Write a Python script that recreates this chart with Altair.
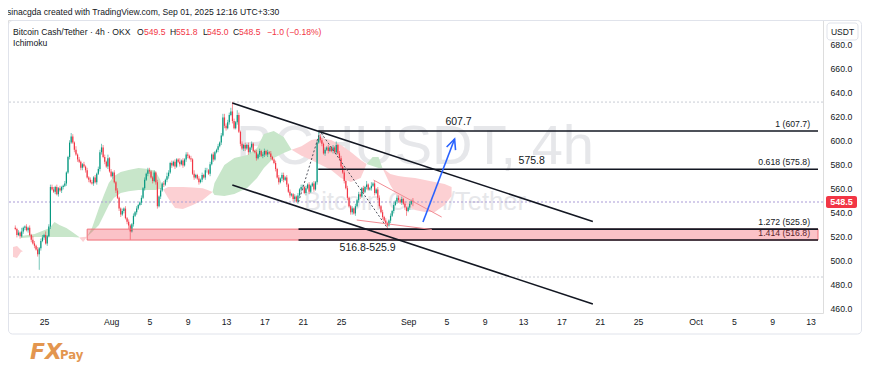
import json
import altair as alt
import pandas as pd

# ---------------- data ----------------
# 4h candles from Jul 22 00:00 to Sep 01 12:00 (day offsets relative to Sep 01)
START_DAY = -41.0
CLOSES = [
    526, 521, 523, 520, 524, 527,
    528, 525, 527, 521, 517, 514,
    512, 509, 505, 510, 516, 519,
    521, 514, 520, 528, 561, 559,
    557, 561, 555, 560, 558, 561,
    562, 564, 573, 586, 598, 603,
    598, 592, 588, 584, 582, 577,
    580, 578, 575, 569, 567, 565,
    564, 569, 565, 572, 576, 590,
    594, 586, 582, 578, 585, 574,
    570, 573, 565, 558, 552, 543,
    538, 541, 543, 535, 532, 529,
    524, 530, 537, 540, 543, 546,
    548, 552, 560, 567, 572, 575,
    574, 569, 566, 573, 565, 545,
    553, 558, 564, 563, 567, 570,
    573, 581, 579, 582, 578, 584,
    582, 580, 583, 579, 584, 588,
    587, 585, 584, 572, 569, 571,
    568, 565, 567, 571, 569, 575,
    575, 572, 580, 588, 584, 590,
    592, 595, 598, 604, 619, 612,
    610, 615, 621, 624, 616, 610,
    615, 621, 607, 597, 593, 596,
    593, 596, 590, 594, 597, 591,
    590, 585, 588, 591, 587, 588,
    591, 588, 590, 589, 586, 584,
    581, 576, 569, 565, 568, 571,
    567, 569, 563, 557, 554, 555,
    551, 553, 549, 554, 559, 561,
    561, 556, 560, 563, 557, 562,
    564, 559, 565, 598, 603, 600,
    597, 589, 592, 594, 591, 594,
    591, 594, 590, 596, 589, 585,
    578, 573, 566, 560, 552, 545,
    540, 543, 539, 545, 550, 555,
    553, 560, 557, 561, 563, 559,
    560, 562, 564, 556, 559, 552,
    545, 540, 536, 533, 531, 529,
    533, 537, 541, 546, 549, 552,
    550, 548, 551, 547, 544, 541,
    544, 547, 549.5, 548.5,
]
FIRST_OPEN = 527.0
# wick lengths (price units), one character per candle, base-36 digits
WICK_UP = [
    "212131", "121213", "212122", "131222", "212121", "121123", "213121",
    "121212", "212122", "322131", "212121", "121212", "112121", "121212",
    "211212", "121213", "212121", "131212", "212131", "121212", "212121",
    "121233", "222382", "142121", "212121", "121212", "212121", "121212",
    "212121", "121212", "212121", "121252", "212121", "121312", "212121",
    "121212", "212131", "131212", "212121", "121212", "212121", "1212",
]
WICK_DN = [
    "121212", "212121", "212d21", "212121", "121212", "212121", "121212",
    "212121", "121212", "212121", "121212", "212123", "712121", "121212",
    "212122", "121212", "212121", "121212", "212121", "121212", "212121",
    "121212", "212121", "121212", "212121", "121212", "212121", "121212",
    "212121", "221212", "212121", "121212", "212121", "121212", "212121",
    "221212", "212121", "121212", "212123", "121212", "212124", "1214",
]
LAST_O, LAST_H, LAST_L, LAST_C = 549.5, 551.8, 545.0, 548.5

# Ichimoku cloud segments: (day, upper span, lower span)
CLOUD_GREEN = {
    "g1": [(-40.41, 520.2, 518.5), (-38.97, 521.8, 519.3), (-37.42, 526.8, 519.3),
           (-36.91, 531.8, 519.3), (-36.39, 529.3, 519.3), (-35.67, 526.8, 519.3),
           (-35.05, 523.5, 519.3), (-34.33, 519.3, 519.0)],
    "g2": [(-33.51, 519.5, 519.5), (-32.99, 527.0, 523.5), (-32.27, 543.5, 529.3),
           (-31.75, 554.3, 537.7), (-31.24, 564.3, 546.0), (-30.72, 570.0, 551.8),
           (-30.00, 573.5, 556.0), (-29.18, 575.2, 557.5), (-28.14, 576.8, 558.5),
           (-27.11, 576.0, 558.5), (-26.39, 574.3, 558.5), (-25.87, 567.0, 559.3),
           (-25.57, 559.0, 559.0)],
    "g3": [(-20.41, 556.8, 556.8), (-20.21, 564.3, 554.3), (-19.18, 579.3, 553.5),
           (-18.14, 585.2, 555.2), (-16.80, 587.7, 560.2), (-15.77, 593.5, 568.5),
           (-15.05, 605.2, 576.8), (-14.02, 607.7, 585.2), (-12.99, 602.7, 589.3),
           (-12.16, 592.0, 592.0)],
    "g4": [(-4.33, 580.2, 580.2), (-3.71, 586.0, 578.5), (-3.09, 586.0, 576.8),
           (-2.68, 576.8, 576.8)],
}
CLOUD_RED = {
    "r0": [(-41.24, 511.0, 502.7), (-40.82, 511.8, 501.8), (-40.41, 508.5, 506.8),
           (-40.20, 507.5, 507.5)],
    "r1": [(-34.33, 519.0, 519.0), (-33.92, 519.3, 515.2), (-33.51, 519.5, 519.5)],
    "r2": [(-25.57, 559.0, 559.0), (-25.05, 561.0, 551.8), (-24.33, 561.0, 543.5),
           (-23.51, 561.0, 542.7), (-22.47, 560.5, 546.0), (-21.44, 560.0, 550.2),
           (-20.93, 558.5, 553.5), (-20.41, 556.8, 556.8)],
    "r3": [(-12.16, 592.0, 592.0), (-11.13, 595.0, 587.0), (-10.10, 600.2, 583.5),
           (-9.07, 601.8, 579.3), (-8.04, 600.2, 575.2), (-7.01, 596.0, 568.5),
           (-5.98, 590.2, 565.2), (-4.95, 583.5, 568.5), (-4.33, 580.2, 580.2)],
    "r4": [(-2.68, 576.8, 576.8), (-1.86, 571.8, 562.7), (-1.03, 570.2, 551.8),
           (-0.31, 569.3, 546.0), (0.72, 568.5, 541.8), (1.75, 566.8, 540.2),
           (2.78, 565.2, 540.2), (3.81, 563.5, 546.0), (4.54, 561.0, 553.5)],
}

# drawings (day, price)
CHANNEL_UPPER = [(-18.35, 631.0), (19.28, 532.3)]
CHANNEL_LOWER = [(-18.35, 562.7), (19.28, 463.5)]
FIB_LEVELS = [607.7, 575.8, 525.9, 516.8]
FIB_STARTS = [-9.38, -9.38, -11.44, -11.44]
FIB_LABELS = ["1 (607.7)", "0.618 (575.8)", "1.272 (525.9)", "1.414 (516.8)"]
ZONE_START, ZONE_LOW, ZONE_HIGH = -33.5, 516.8, 525.9
ZIGZAG_1 = [(-11.44, 548.5), (-9.23, 606.4)]
ZIGZAG_2 = [(-9.07, 606.0), (-2.16, 526.8)]
WEDGE_UPPER = [(-3.61, 566.8), (3.50, 536.0)]
WEDGE_LOWER = [(-5.36, 533.5), (2.47, 525.6)]
ARROW_SHAFT = [(1.55, 531.8), (4.85, 601.0)]
ARROW_HEAD = [(4.02, 594.4), (4.85, 601.0), (4.95, 591.8)]
TARGET_LABELS = [("607.7", 5.26, 614.8), ("575.8", 12.9, 582.7), ("516.8-525.9", -4.23, 510.2)]
DOTTED_LEVELS = [631.8, 486.0]
LAST_PRICE = 548.5

TICK_DAYS = [-38, -31, -27, -23, -19, -15, -11, -7, 0, 4, 8, 12, 16, 20, 24, 30, 34, 38, 42]
TICK_LABELS = ["25", "Aug", "5", "9", "13", "17", "21", "25", "Sep", "5", "9", "13",
               "17", "21", "25", "Oct", "5", "9", "13"]
Y_TICKS = [460, 480, 500, 520, 540, 560, 580, 600, 620, 640, 660, 680]

# ---------------- layout / style ----------------
FONT = "Liberation Sans"
GREEN, RED, INK = "#089981", "#f23645", "#131722"
X_MIN, X_MAX = -41.24, 42.78
Y_MIN, Y_MAX = 456.0, 700.2
W, H = 815, 293

XS = alt.Scale(domain=[X_MIN, X_MAX], nice=False, zero=False)
YS = alt.Scale(domain=[Y_MIN, Y_MAX], nice=False, zero=False)
label_expr = f"{json.dumps(TICK_LABELS)}[indexof({json.dumps(TICK_DAYS)}, datum.value)]"
XAX = alt.Axis(values=TICK_DAYS, labelExpr=label_expr, title=None, orient="bottom",
               labelPadding=4, domain=False, ticks=False, grid=False,
               labelFont=FONT, labelFontSize=8.7, labelColor=INK, labelFlush=False,
               labelOverlap=False)
YAX = alt.Axis(values=Y_TICKS, format=".1f", title=None, orient="right",
               labelPadding=7, domain=False, ticks=False, grid=False,
               labelFont=FONT, labelFontSize=8.7, labelColor=INK)


def X(f):
    return alt.X(f, type="quantitative", scale=XS, axis=XAX)


def Y(f):
    return alt.Y(f, type="quantitative", scale=YS, axis=YAX, stack=None)


# ---------------- build frames ----------------
up = [int(ch, 36) for row in WICK_UP for ch in row]
dn = [int(ch, 36) for row in WICK_DN for ch in row]
opens = [FIRST_OPEN] + CLOSES[:-1]
rows = []
for i, c in enumerate(CLOSES):
    o = opens[i]
    hi = max(o, c) + up[i]
    lo = min(o, c) - dn[i]
    if i == len(CLOSES) - 1:
        o, hi, lo, c = LAST_O, LAST_H, LAST_L, LAST_C
    rows.append({"d": START_DAY + i / 6.0, "o": o, "c": c, "h": hi, "l": lo,
                 "dir": "up" if c >= o else "down"})
candles = pd.DataFrame(rows)


def lines_df(named):
    r = []
    for name, pts in named.items():
        for k, (d, p) in enumerate(pts):
            r.append({"id": name, "k": k, "d": d, "p": p})
    return pd.DataFrame(r)


CS = alt.Scale(domain=["up", "down"], range=[GREEN, RED])
layers = []

# chart frame
frame = alt.Chart(pd.DataFrame({"a": [0]})).mark_rect(
    fillOpacity=0, stroke="#e0e3eb", strokeWidth=1, cornerRadius=4
).encode(x=alt.value(0.5), x2=alt.value(853.5), y=alt.value(0.5), y2=alt.value(314))
layers.append(frame)

# watermark
wm = pd.DataFrame({"t": ["BCHUSDT, 4h", "Bitcoin Cash/Tether"], "d": [0.72, 0.72],
                   "p": [597.2, 549.7]})
layers.append(alt.Chart(wm.iloc[[0]]).mark_text(font=FONT, fontSize=56, color="#e6e7ea",
                                                 baseline="middle", dy=3)
              .encode(X("d"), Y("p"), text="t:N"))
layers.append(alt.Chart(wm.iloc[[1]]).mark_text(font=FONT, fontSize=25.6, color="#e6e7ea",
                                                 baseline="middle", dy=1)
              .encode(X("d"), Y("p"), text="t:N"))

# cloud: one area per segment
for segs, col in ((CLOUD_GREEN, "#c8e6ca"), (CLOUD_RED, "#fcd0d3")):
    for name, pts in segs.items():
        seg_df = pd.DataFrame(pts, columns=["d", "top", "bot"])
        layers.append(alt.Chart(seg_df).mark_area(color=col, opacity=1, line=False)
                      .encode(X("d"), Y("top"), alt.Y2("bot")))

# dotted reference lines
layers.append(alt.Chart(pd.DataFrame({"p": DOTTED_LEVELS})).mark_rule(
    color="#c9ccd4", strokeDash=[2, 2], strokeWidth=1).encode(Y("p")))
layers.append(alt.Chart(pd.DataFrame({"p": [LAST_PRICE]})).mark_rule(
    color="#a99bd6", strokeDash=[2, 2], strokeWidth=1).encode(Y("p")))

# candles
layers.append(alt.Chart(candles).mark_rule(strokeWidth=1, opacity=0.55).encode(
    X("d"), Y("l"), alt.Y2("h"), color=alt.Color("dir:N", scale=CS, legend=None)))
layers.append(alt.Chart(candles).mark_bar(size=1.2).encode(
    X("d"), Y("o"), alt.Y2("c"), color=alt.Color("dir:N", scale=CS, legend=None)))

# fib labels (under zone)
fib = pd.DataFrame({"p": FIB_LEVELS, "x0": FIB_STARTS, "x1": [X_MAX] * 4,
                    "t": FIB_LABELS, "xl": [41.95] * 4})
layers.append(alt.Chart(fib).mark_text(font=FONT, fontSize=8.7, color=INK, align="right",
                                       baseline="bottom", dy=-2)
              .encode(X("xl"), Y("p"), text="t:N"))

# zone
zone = pd.DataFrame({"x0": [ZONE_START], "x1": [X_MAX], "lo": [ZONE_LOW], "hi": [ZONE_HIGH]})
layers.append(alt.Chart(zone).mark_rect(fill="#f23645", fillOpacity=0.3, stroke="#ef6f78",
                                        strokeWidth=1)
              .encode(X("x0"), alt.X2("x1"), Y("lo"), alt.Y2("hi")))

# fib lines
layers.append(alt.Chart(fib).mark_rule(color=INK, strokeWidth=1.6)
              .encode(X("x0"), alt.X2("x1"), Y("p")))

# channel
layers.append(alt.Chart(lines_df({"u": CHANNEL_UPPER, "l": CHANNEL_LOWER}))
              .mark_line(color=INK, strokeWidth=1.6)
              .encode(X("d"), Y("p"), detail="id:N", order="k:Q"))
# zigzag dotted
layers.append(alt.Chart(lines_df({"z1": ZIGZAG_1, "z2": ZIGZAG_2}))
              .mark_line(color="#50535e", strokeWidth=1, strokeDash=[2, 2])
              .encode(X("d"), Y("p"), detail="id:N", order="k:Q"))
# wedge
layers.append(alt.Chart(lines_df({"wu": WEDGE_UPPER, "wl": WEDGE_LOWER}))
              .mark_line(color="#f28b93", strokeWidth=1)
              .encode(X("d"), Y("p"), detail="id:N", order="k:Q"))
# arrow
layers.append(alt.Chart(lines_df({"s": ARROW_SHAFT, "h": ARROW_HEAD}))
              .mark_line(color="#2962ff", strokeWidth=1.6)
              .encode(X("d"), Y("p"), detail="id:N", order="k:Q"))

# target labels
tl = pd.DataFrame(TARGET_LABELS, columns=["t", "d", "p"])
layers.append(alt.Chart(tl).mark_text(font=FONT, fontSize=10.5, color=INK)
              .encode(X("d"), Y("p"), text="t:N"))

# last price badge
badge = pd.DataFrame({"p": [LAST_PRICE], "hi": [LAST_PRICE + 5], "lo": [LAST_PRICE - 5],
                      "t": [f"{LAST_PRICE:.1f}"]})
layers.append(alt.Chart(badge).mark_rect(color=RED, cornerRadius=2)
              .encode(x=alt.value(818), x2=alt.value(849), y=Y("hi"), y2=alt.Y2("lo")))
layers.append(alt.Chart(badge).mark_text(font=FONT, fontSize=9, color="white", fontWeight="bold")
              .encode(x=alt.value(833.5), y=Y("p"), text="t:N"))

# USDT box
layers.append(alt.Chart(pd.DataFrame({"a": [0]})).mark_rect(
    fill="white", stroke="#e0e3eb", cornerRadius=3)
    .encode(x=alt.value(819), x2=alt.value(850), y=alt.value(3), y2=alt.value(20)))
layers.append(alt.Chart(pd.DataFrame({"t": ["USDT"]})).mark_text(font=FONT, fontSize=8.5, color=INK)
              .encode(x=alt.value(834.5), y=alt.value(12), text="t:N"))

# header texts (pixel positions in plot coordinates)
HEADER = [
    ("sinacgda created with TradingView.com, Sep 01, 2025 12:16 UTC+3:30", -1, -8, INK),
    ("Bitcoin Cash/Tether · 4h · OKX", 5, 12, INK),
    ("O", 129, 12, INK), ("549.5", 136, 12, RED),
    ("H", 162, 12, INK), ("551.8", 168, 12, RED),
    ("L", 195, 12, INK), ("545.0", 199, 12, RED),
    ("C", 225, 12, INK), ("548.5", 231, 12, RED),
    ("−1.0 (−0.18%)", 259, 12, RED),
    ("Ichimoku", 5, 23, INK),
]
for t, hx, hy, col in HEADER:
    layers.append(alt.Chart(pd.DataFrame({"t": [t]})).mark_text(
        font=FONT, fontSize=8.6, color=col, align="left", baseline="middle")
        .encode(x=alt.value(hx), y=alt.value(hy), text="t:N"))

# logo
layers.append(alt.Chart(pd.DataFrame({"t": ["FX"]})).mark_text(
    font="DejaVu Sans", fontSize=22, fontWeight="bold", fontStyle="italic", color="#e3964f",
    align="left", baseline="alphabetic")
    .encode(x=alt.value(22), y=alt.value(339), text="t:N"))
layers.append(alt.Chart(pd.DataFrame({"t": ["Pay"]})).mark_text(
    font="DejaVu Sans Condensed", fontSize=13, fontWeight="bold", color="#e3964f",
    align="left", baseline="alphabetic")
    .encode(x=alt.value(52), y=alt.value(339), text="t:N"))

chart = alt.layer(*layers).properties(
    width=W, height=H,
    autosize=alt.AutoSizeParams(type="none"),
    padding={"left": 0, "top": 12, "right": 39, "bottom": 50},
).configure_view(stroke=None).configure(background="white")

chart.save("out.html", embed_options={"renderer": "svg", "actions": False})
